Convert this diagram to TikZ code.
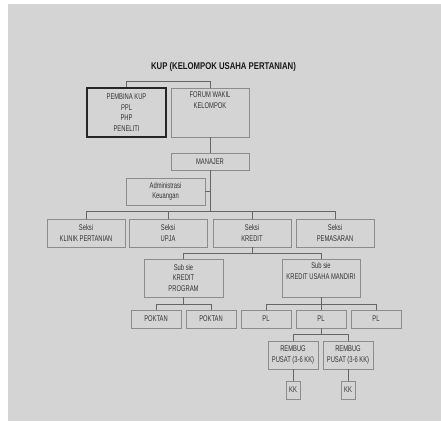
\documentclass[tikz,border=0pt]{standalone}
\usepackage{fontspec}
\setmainfont{Liberation Sans}[FakeStretch=0.7]
\newfontfamily\titlefont{Liberation Sans}[FakeStretch=0.79]
\usetikzlibrary{shadows}
\definecolor{bg}{HTML}{D4D4D4}
\definecolor{txt}{HTML}{333333}
\definecolor{edge}{HTML}{8C8C8C}
\definecolor{shade}{HTML}{4A4A4A}
\definecolor{wire}{HTML}{666666}
\begin{document}
\begin{tikzpicture}[x=1pt,y=-1pt,
  box/.style={draw=edge, line width=0.7pt, fill=bg, rectangle, inner sep=1pt,
    align=center, text=txt, font=\fontsize{8.3}{10.5}\selectfont,
    drop shadow={shadow xshift=0.9pt, shadow yshift=-0.9pt, fill=shade, opacity=1}},
  darkbox/.style={box, draw=black!85, line width=1.1pt,
    drop shadow={shadow xshift=1pt, shadow yshift=-1.4pt, fill=black, opacity=1}},
  lbl/.style={align=center, text=txt, font=\fontsize{8.3}{10.5}\selectfont, inner sep=0pt},
  wireline/.style={draw=wire, line width=0.8pt}]
\useasboundingbox (0,0) rectangle (441,421);
\fill[white] (0,0) rectangle (441,421);
\fill[bg] (8,4) rectangle (441,421);

\node[font=\titlefont\bfseries\fontsize{9.8}{12}\selectfont, text=black!90] (title) at (223.5,67) {KUP (KELOMPOK USAHA PERTANIAN)};

\node[darkbox, minimum width=79pt, minimum height=49pt] (pembina) at (126.5,112.5) {PEMBINA KUP\\PPL\\PHP\\PENELITI};
\node[box, minimum width=78pt, minimum height=49pt,
  label={[lbl, anchor=north, yshift=-4pt]north:FORUM WAKIL\\KELOMPOK}] (forum) at (210,112.5) {};
\node[box, minimum width=78pt, minimum height=17pt] (manajer) at (210,161.5) {MANAJER};
\node[box, minimum width=79pt, minimum height=27pt] (admin) at (165.5,191.5) {Administrasi\\Keuangan};

\node[box, minimum width=78pt, minimum height=28pt] (s1) at (86,233) {Seksi\\KLINIK PERTANIAN};
\node[box, minimum width=78pt, minimum height=28pt] (s2) at (168,233) {Seksi\\UPJA};
\node[box, minimum width=78pt, minimum height=28pt] (s3) at (252,233) {Seksi\\KREDIT};
\node[box, minimum width=78pt, minimum height=28pt] (s4) at (335,233) {Seksi\\PEMASARAN};

\node[box, minimum width=79pt, minimum height=38pt] (subkp) at (183.5,278) {Sub sie\\KREDIT\\PROGRAM};
\node[box, minimum width=78pt, minimum height=38pt,
  label={[lbl, anchor=north, yshift=-4pt]north:Sub sie\\KREDIT USAHA MANDIRI}] (subkum) at (321,278) {};

\node[box, minimum width=50pt, minimum height=18pt] (pok1) at (156,319) {POKTAN};
\node[box, minimum width=50pt, minimum height=18pt] (pok2) at (211,319) {POKTAN};
\node[box, minimum width=50pt, minimum height=18pt] (pl1) at (266,319) {PL};
\node[box, minimum width=50pt, minimum height=18pt] (pl2) at (321,319) {PL};
\node[box, minimum width=50pt, minimum height=18pt] (pl3) at (376,319) {PL};

\node[box, minimum width=50pt, minimum height=28pt] (r1) at (293,355) {REMBUG\\PUSAT (3-6 KK)};
\node[box, minimum width=50pt, minimum height=28pt] (r2) at (348,355) {REMBUG\\PUSAT (3-6 KK)};

\node[box, minimum width=14pt, minimum height=18pt] (kk1) at (293,390) {KK};
\node[box, minimum width=14pt, minimum height=18pt] (kk2) at (348,390) {KK};

% connectors
\draw[wireline] (pembina.north) -- (pembina.north |- 0,81) -| (forum.north);
\draw[wireline] (forum.south) -- (manajer.north);
\draw[wireline] (manajer.south) -- (manajer.south |- 0,211);
\draw[wireline] (admin.east) -- (admin.east -| manajer.south);
\draw[wireline] (s1.north) -- (s1.north |- 0,211) -- (s4.north |- 0,211) -- (s4.north);
\draw[wireline] (s2.north) -- (s2.north |- 0,211);
\draw[wireline] (s3.north) -- (s3.north |- 0,211);

\draw[wireline] (s3.south) -- (s3.south |- 0,253);
\draw[wireline] (subkp.north) -- (subkp.north |- 0,253) -- (subkum.north |- 0,253) -- (subkum.north);

\draw[wireline] (subkp.south) -- (subkp.south |- 0,304);
\draw[wireline] (pok1.north) -- (pok1.north |- 0,304) -- (pok2.north |- 0,304) -- (pok2.north);

\draw[wireline] (subkum.south) -- (pl2.north);
\draw[wireline] (pl1.north) -- (pl1.north |- 0,304) -- (pl3.north |- 0,304) -- (pl3.north);

\draw[wireline] (pl2.south) -- (pl2.south |- 0,334);
\draw[wireline] (r1.north) -- (r1.north |- 0,334) -- (r2.north |- 0,334) -- (r2.north);

\draw[wireline] (r1.south) -- (kk1.north);
\draw[wireline] (r2.south) -- (kk2.north);
\end{tikzpicture}
\end{document}
